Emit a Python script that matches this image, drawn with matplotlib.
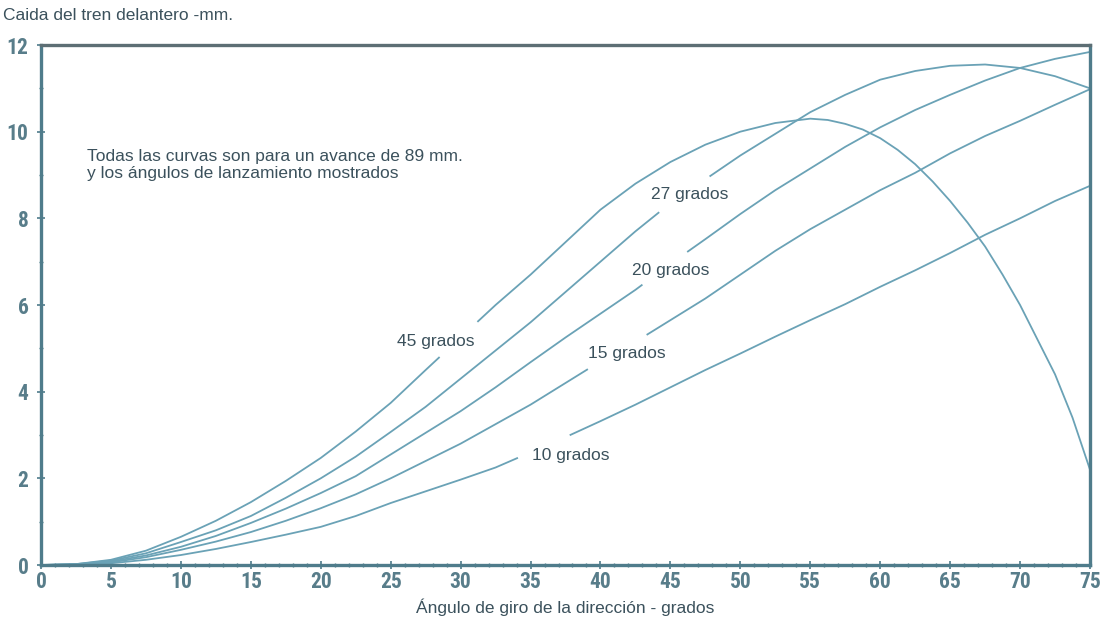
import numpy as np
import matplotlib
matplotlib.use("agg")
import matplotlib.pyplot as plt
from matplotlib.ticker import MultipleLocator
from matplotlib import font_manager

# steering angle (deg) and front-end drop (mm) for each caster angle
steer = np.arange(0, 75.1, 2.5)
# the 45 deg curve turns down sharply, so it is read more finely past 55 deg
steer_45 = np.concatenate([np.arange(0, 55, 2.5), np.arange(55, 75.1, 1.25)])

drop_45 = [0, 0.02, 0.12, 0.33, 0.65, 1.02, 1.45, 1.94, 2.47, 3.08, 3.74, 4.5, 5.25,
           6.0, 6.7, 7.45, 8.2, 8.8, 9.3, 9.7, 10.0, 10.2,
           10.3, 10.27, 10.18, 10.05, 9.85, 9.58, 9.25, 8.85, 8.4, 7.9, 7.35, 6.7,
           6.0, 5.2, 4.4, 3.4, 2.2]
drop_27 = [0, 0.02, 0.1, 0.27, 0.53, 0.8, 1.13, 1.55, 2.0, 2.5, 3.07, 3.65, 4.3,
           4.95, 5.6, 6.3, 7.0, 7.7, 8.35, 8.9, 9.45, 9.95, 10.45, 10.85, 11.2, 11.4,
           11.52, 11.55, 11.47, 11.28, 11.0]
drop_20 = [0, 0.01, 0.08, 0.22, 0.42, 0.67, 0.97, 1.3, 1.66, 2.05, 2.55, 3.05, 3.55,
           4.1, 4.68, 5.25, 5.8, 6.35, 6.95, 7.52, 8.1, 8.65, 9.15, 9.65, 10.1, 10.5,
           10.85, 11.18, 11.47, 11.68, 11.84]
drop_15 = [0, 0.01, 0.06, 0.18, 0.35, 0.54, 0.76, 1.02, 1.31, 1.63, 2.0, 2.4, 2.8,
           3.25, 3.7, 4.2, 4.7, 5.15, 5.65, 6.15, 6.7, 7.25, 7.75, 8.2, 8.65, 9.05,
           9.5, 9.9, 10.25, 10.62, 10.98]
drop_10 = [0, 0.01, 0.04, 0.12, 0.23, 0.37, 0.53, 0.7, 0.88, 1.13, 1.43, 1.7, 1.97,
           2.25, 2.6, 2.95, 3.32, 3.7, 4.1, 4.5, 4.88, 5.27, 5.65, 6.02, 6.42, 6.8,
           7.2, 7.62, 8.0, 8.4, 8.75]

curves = {45: (steer_45, drop_45), 27: (steer, drop_27), 20: (steer, drop_20),
          15: (steer, drop_15), 10: (steer, drop_10)}

# where each curve is broken for its label, and where the label sits
gaps = {45: (28.5, 31.2), 27: (44.2, 47.8), 20: (43.0, 46.2), 15: (39.1, 43.3), 10: (34.1, 37.8)}
label_pos = {45: (28.2, 5.15), 27: (46.4, 8.54), 20: (45.0, 6.79), 15: (41.9, 4.89), 10: (37.9, 2.52)}

line_c = "#6aa2b6"
axis_c = "#4f7c8b"
text_c = "#3b515c"
tick_c = "#587d8a"
text_font = ["Liberation Sans", "DejaVu Sans"]

# narrow face for the tick numbers if one is around
names = {f.name for f in font_manager.fontManager.ttflist}
narrow = [n for n in ["Liberation Sans Narrow", "Arial Narrow", "Roboto Condensed",
                      "Open Sans Condensed", "DejaVu Sans Condensed"] if n in names]
tick_props = font_manager.FontProperties(family=narrow + ["DejaVu Sans"], weight="bold",
                                         stretch="condensed", size=15.5)

fig = plt.figure(figsize=(11.06, 6.26), dpi=100)
ax = fig.add_axes([41 / 1106, 1 - 565 / 626, 1049 / 1106, 520 / 626])

for ang, (xs, vals) in curves.items():
    vals = np.asarray(vals, dtype=float)
    g0, g1 = gaps[ang]
    left = xs < g0
    right = xs > g1
    ax.plot(np.append(xs[left], g0), np.append(vals[left], np.interp(g0, xs, vals)),
            color=line_c, lw=1.3, solid_capstyle="butt")
    ax.plot(np.insert(xs[right], 0, g1), np.insert(vals[right], 0, np.interp(g1, xs, vals)),
            color=line_c, lw=1.3, solid_capstyle="butt")
    lx, ly = label_pos[ang]
    ax.text(lx, ly, f"{ang} grados", ha="center", va="center", fontsize=12.5,
            color=text_c, family=text_font)

ax.text(3.3, 9.6, "Todas las curvas son para un avance de 89 mm.\ny los ángulos de lanzamiento mostrados",
        ha="left", va="top", fontsize=12.5, color=text_c, linespacing=1.15, family=text_font)

ax.set_xlim(0, 75)
ax.set_ylim(0, 12)
ax.xaxis.set_major_locator(MultipleLocator(5))
ax.xaxis.set_minor_locator(MultipleLocator(1))
ax.yaxis.set_major_locator(MultipleLocator(2))
ax.yaxis.set_minor_locator(MultipleLocator(1))
ax.tick_params(which="major", direction="inout", length=6, width=1.2, color=axis_c,
               labelcolor=tick_c)
ax.tick_params(which="minor", direction="inout", length=3, width=1, color=axis_c)
ax.tick_params(axis="x", pad=1)
ax.tick_params(axis="y", pad=6)
for lab in ax.get_xticklabels() + ax.get_yticklabels():
    lab.set_fontproperties(tick_props)

for side in ["left", "bottom", "right"]:
    ax.spines[side].set_color(axis_c)
    ax.spines[side].set_linewidth(2.4)
ax.spines["top"].set_color("#5d6e74")
ax.spines["top"].set_linewidth(2.4)

ax.set_xlabel("Ángulo de giro de la dirección - grados", fontsize=12.5, color=text_c,
              family=text_font, labelpad=4)
fig.text(0.003, 1 - 15 / 626, "Caida del tren delantero -mm.", ha="left", va="center",
         fontsize=12.5, color=text_c, family=text_font)

fig.savefig("out.png", dpi=100)
